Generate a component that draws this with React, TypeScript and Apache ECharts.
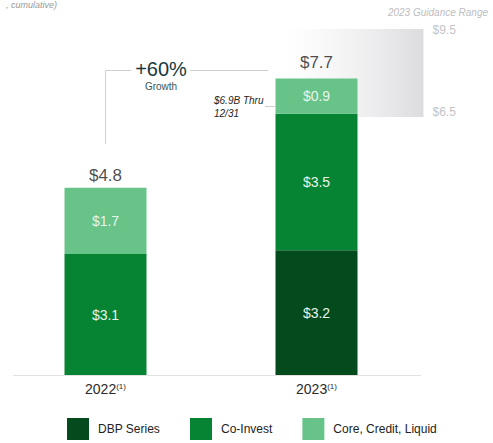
import React, { useEffect, useRef } from "react";
import * as echarts from "echarts";

const categories = ["2022", "2023"];
const dbpSeries = ["-", 3.2];
const coInvest = [3.1, 3.5];
const coreCreditLiquid = [1.7, 0.9];
const totals = [4.8, 7.7];
const guidanceRange = [9.5, 6.5];
const growthText = "+60%";
const thruText = ["$6.9B Thru", "12/31"];

const FONT = "'Liberation Sans', Arial, sans-serif";
const C_DBP = "#034a1c";
const C_CO = "#068333";
const C_CORE = "#67c388";

export default function App() {
  const ref = useRef<HTMLDivElement>(null);
  useEffect(() => {
    if (!ref.current) return;
    const chart = echarts.init(ref.current, null, { renderer: "svg" });
    const innerLabel = {
      show: true,
      position: "inside",
      color: "#e8f4ea",
      fontSize: 14,
      fontFamily: FONT,
      formatter: (p: any) => "$" + Number(p.value).toFixed(1),
    };
    const option: any = {
      animation: false,
      textStyle: { fontFamily: FONT },
      grid: { left: 0, right: 71, top: 24, bottom: 68 },
      legend: {
        left: 67,
        top: 418,
        padding: 0,
        itemWidth: 22,
        itemHeight: 22,
        itemGap: 30,
        icon: "rect",
        data: ["DBP Series", "Co-Invest", "Core, Credit, Liquid"],
        textStyle: { fontSize: 12, color: "#222", fontFamily: FONT, padding: [0, 0, 0, 4] },
      },
      xAxis: {
        type: "category",
        data: categories,
        axisLine: { show: false },
        axisTick: { show: false },
        axisLabel: {
          margin: 7,
          formatter: (v: string) => `{y|${v}}{s|(1)}`,
          rich: {
            y: { fontSize: 14, color: "#2a2a2a", fontFamily: FONT },
            s: { fontSize: 8, color: "#2a2a2a", fontFamily: FONT, verticalAlign: "top", padding: [0, 0, 6, 0] },
          },
        },
      },
      yAxis: [
        { type: "value", min: 0, max: 9, show: false },
        { type: "value", min: -3.14, max: 9.72, show: false },
      ],
      series: [
        {
          type: "custom",
          yAxisIndex: 1,
          z: 1,
          silent: true,
          encode: { x: 0, y: [1, 2] },
          data: [[1, guidanceRange[0], guidanceRange[1]]],
          renderItem: (params: any, api: any) => {
            const top = api.coord([api.value(0), api.value(1)]);
            const bot = api.coord([api.value(0), api.value(2)]);
            const x0 = top[0] - 30;
            const x1 = top[0] + 107;
            return {
              type: "group",
              children: [
                {
                  type: "rect",
                  shape: { x: x0, y: top[1] - 1, width: x1 - x0, height: bot[1] - top[1] + 6 },
                  style: {
                    fill: new echarts.graphic.LinearGradient(0, 0, 1, 0, [
                      { offset: 0, color: "rgba(238,238,240,0)" },
                      { offset: 0.5, color: "rgba(234,234,236,0.65)" },
                      { offset: 1, color: "#dcdcdf" },
                    ]),
                  },
                },
                {
                  type: "text",
                  x: x1 + 9,
                  y: top[1],
                  style: {
                    text: "$" + api.value(1).toFixed(1),
                    fill: "#c4c4c6",
                    fontSize: 12,
                    fontFamily: FONT,
                    verticalAlign: "middle",
                    align: "left",
                  },
                },
                {
                  type: "text",
                  x: x1 + 9,
                  y: bot[1],
                  style: {
                    text: "$" + api.value(2).toFixed(1),
                    fill: "#c4c4c6",
                    fontSize: 12,
                    fontFamily: FONT,
                    verticalAlign: "middle",
                    align: "left",
                  },
                },
              ],
            };
          },
        },
        {
          name: "DBP Series",
          type: "bar",
          stack: "t",
          barWidth: 82,
          z: 3,
          itemStyle: { color: C_DBP },
          label: innerLabel,
          data: dbpSeries,
        },
        {
          name: "Co-Invest",
          type: "bar",
          stack: "t",
          barWidth: 82,
          z: 3,
          itemStyle: { color: C_CO },
          label: innerLabel,
          data: coInvest,
        },
        {
          name: "Core, Credit, Liquid",
          type: "bar",
          stack: "t",
          barWidth: 82,
          z: 3,
          itemStyle: { color: C_CORE },
          label: innerLabel,
          data: coreCreditLiquid,
        },
        {
          type: "scatter",
          symbolSize: 0,
          z: 4,
          silent: true,
          data: totals,
          label: {
            show: true,
            position: "top",
            distance: 4,
            fontSize: 17,
            color: "#1c1c1c",
            fontFamily: FONT,
            formatter: (p: any) => "$" + Number(p.value).toFixed(1),
          },
        },
      ],
      graphic: [
        {
          type: "line",
          shape: { x1: 13, y1: 375.5, x2: 421, y2: 375.5 },
          style: { stroke: "#e2e2e2", lineWidth: 1 },
          z: 5,
        },
        {
          type: "text",
          x: 57,
          y: 0,
          style: {
            text: ", cumulative)",
            fill: "#9a9a9a",
            fontSize: 9,
            fontStyle: "italic",
            fontFamily: FONT,
            align: "right",
            verticalAlign: "top",
          },
        },
        {
          type: "text",
          x: 488,
          y: 12,
          style: {
            text: "2023 Guidance Range",
            fill: "#bdbdbf",
            fontSize: 10,
            fontStyle: "italic",
            fontFamily: FONT,
            align: "right",
            verticalAlign: "middle",
          },
        },
        {
          type: "polyline",
          shape: { points: [[105.5, 144], [105.5, 70.5], [131, 70.5]] },
          style: { stroke: "#cfcfcf", lineWidth: 1, fill: "none" },
        },
        {
          type: "line",
          shape: { x1: 190, y1: 70.5, x2: 268, y2: 70.5 },
          style: { stroke: "#cfcfcf", lineWidth: 1 },
        },
        {
          type: "text",
          x: 161,
          y: 69,
          style: {
            text: growthText,
            fill: "#17393e",
            fontSize: 20,
            fontFamily: FONT,
            align: "center",
            verticalAlign: "middle",
          },
        },
        {
          type: "text",
          x: 161,
          y: 86,
          style: {
            text: "Growth",
            fill: "#3b5659",
            fontSize: 10,
            fontFamily: FONT,
            align: "center",
            verticalAlign: "middle",
          },
        },
        {
          type: "text",
          x: 214,
          y: 100,
          style: {
            text: thruText[0],
            fill: "#1e1e1e",
            fontSize: 10,
            fontStyle: "italic",
            fontFamily: FONT,
            align: "left",
            verticalAlign: "middle",
          },
        },
        {
          type: "text",
          x: 214,
          y: 113,
          style: {
            text: thruText[1],
            fill: "#1e1e1e",
            fontSize: 10,
            fontStyle: "italic",
            fontFamily: FONT,
            align: "left",
            verticalAlign: "middle",
          },
        },
        {
          type: "line",
          shape: { x1: 265, y1: 106.5, x2: 275, y2: 106.5 },
          style: { stroke: "#cfcfcf", lineWidth: 1 },
        },
      ],
    };
    chart.setOption(option);
    return () => chart.dispose();
  }, []);
  return (
    <div
      ref={ref}
      style={{ position: "fixed", left: 0, top: 0, width: 493, height: 443, background: "#fff" }}
    />
  );
}
